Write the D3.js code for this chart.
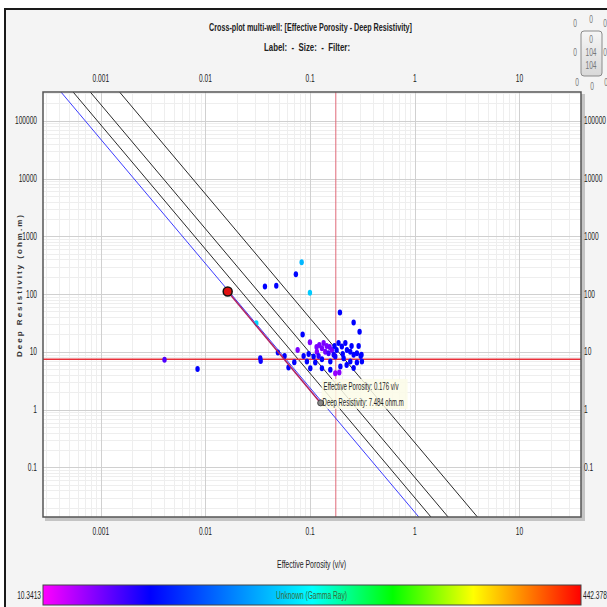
<!DOCTYPE html>
<html>
<head>
<meta charset="utf-8">
<script src="https://cdn.jsdelivr.net/npm/d3@7"></script>
<style>
  body { margin: 0; background: #fff; }
  text { font-family: "Liberation Sans", Arial, sans-serif; }
</style>
</head>
<body>
<div id="chart"></div>
<script>
// --- data ---
var porosity = [0.00406, 0.0084, 0.0306, 0.0334, 0.0337, 0.037, 0.0475, 0.0492, 0.057, 0.0706,
  0.0622, 0.0731, 0.083, 0.0996, 0.0848, 0.0996, 0.076, 0.1927, 0.2606, 0.297,
  0.1225, 0.1297, 0.116, 0.1396, 0.150, 0.1615, 0.187, 0.201, 0.217, 0.225,
  0.242, 0.2606, 0.280, 0.0968, 0.108, 0.0932, 0.112, 0.1297, 0.156, 0.174,
  0.209, 0.242, 0.280, 0.3126, 0.1297, 0.156, 0.1946, 0.1004, 0.174, 0.190,
  0.144, 0.171, 0.249, 0.205, 0.291, 0.310,
  0.1346, 0.1536, 0.1153, 0.168, 0.2234, 0.2606, 0.304, 0.0867, 0.1205, 0.179];
var resistivity = [7.28, 5.08, 31.4, 7.78, 6.98, 135, 139, 9.72, 8.53, 6.64,
  5.35, 221, 356, 106, 19.9, 14.7, 10.8, 47.9, 32.1, 22.4,
  13.2, 11.6, 10.1, 10.1, 9.5, 10.8, 14.2, 12.4, 14.2, 10.8,
  10.1, 8.88, 9.5, 9.23, 8.3, 6.79, 6.53, 7.48, 6.79, 8.3,
  7.78, 6.79, 6.53, 6.79, 5.22, 4.89, 5.57, 5.22, 4.28, 4.39,
  12.7, 12.7, 12.7, 9.23, 12.7, 8.88,
  14.3, 12.2, 12.2, 8.88, 5.96, 5.28, 8.53, 8.53, 8.53, 10.8];
var gammaRay = [70, 97, 205, 92, 92, 97, 97, 97, 97, 97,
  97, 100, 190, 200, 97, 55, 55, 97, 97, 97,
  55, 55, 52, 58, 75, 55, 97, 97, 95, 97,
  97, 97, 97, 97, 97, 97, 97, 97, 97, 90,
  97, 97, 97, 97, 97, 97, 97, 97, 45, 50,
  55, 97, 97, 97, 97, 97,
  55, 58, 55, 90, 97, 97, 97, 97, 80, 97];

var selectedPoint = { phi: 0.0163, rt: 111 };
var dragLine = [[0.0163, 111], [0.126, 1.31]];
var crossPhi = 0.176, crossRt = 7.484;

// Archie / Pickett lines
var archieA = 0.62, archieM = 2.15, archieN = 2, archieRw = 0.0272;
var swLines = [1, 0.75, 0.5, 0.25];

var xTicks = [0.001, 0.01, 0.1, 1, 10];
var yTicks = [0.1, 1, 10, 100, 1000, 10000, 100000];
var grMin = 10.3413, grMax = 442.378;
var grStops = [0, 0.2, 0.5, 0.65, 0.8, 1];
var grColors = ["#ff00ff", "#0000ff", "#00ffff", "#00ff00", "#ffff00", "#ff0000"];

// --- layout ---
var width = 607, height = 607,
    plot = { left: 43, right: 581, top: 92, bottom: 517 };

var svg = d3.select("#chart").append("svg")
    .attr("width", width)
    .attr("height", height);

// squeeze text horizontally (the original UI font is very narrow)
function squeeze(sel, k) {
    sel.attr("transform", function () {
        var tx = +this.getAttribute("x");
        return "translate(" + tx + ",0) scale(" + k + ",1) translate(" + (-tx) + ",0)";
    });
}
function fit(sel, len) {
    sel.attr("textLength", len).attr("lengthAdjust", "spacingAndGlyphs");
}

// panel
svg.append("rect")
    .attr("x", 5).attr("y", 9)
    .attr("width", 620).attr("height", 620)
    .attr("fill", "#f4f4f4")
    .attr("stroke", "#1a1a1a")
    .attr("stroke-width", 2);

var x = d3.scaleLog().domain([0.00028, 38.8]).range([plot.left, plot.right]);
var y = d3.scaleLog().domain([0.0139, 314000]).range([plot.bottom, plot.top]);

var grScale = d3.scaleLinear()
    .domain(grStops.map(function (s) { return grMin + s * (grMax - grMin); }))
    .range(grColors);

// shadow + plot background
svg.append("rect")
    .attr("x", plot.left + 2).attr("y", plot.top + 2)
    .attr("width", plot.right - plot.left + 2).attr("height", plot.bottom - plot.top + 2)
    .attr("fill", "#c4c4c4");
svg.append("rect")
    .attr("x", plot.left).attr("y", plot.top)
    .attr("width", plot.right - plot.left).attr("height", plot.bottom - plot.top)
    .attr("fill", "#fff");

var defs = svg.append("defs");
defs.append("clipPath").attr("id", "clip")
  .append("rect")
    .attr("x", plot.left).attr("y", plot.top)
    .attr("width", plot.right - plot.left).attr("height", plot.bottom - plot.top);

var g = svg.append("g").attr("clip-path", "url(#clip)");

// grid: minor then major
function logMinor(domain) {
    var out = [];
    var lo = Math.floor(Math.log10(domain[0])), hi = Math.ceil(Math.log10(domain[1]));
    for (var e = lo; e <= hi; e++) {
        for (var k = 2; k <= 9; k++) out.push(k * Math.pow(10, e));
    }
    return out;
}
function decades(domain) {
    var out = [];
    var lo = Math.floor(Math.log10(domain[0])), hi = Math.ceil(Math.log10(domain[1]));
    for (var e = lo; e <= hi; e++) out.push(Math.pow(10, e));
    return out;
}

g.selectAll(".xminor").data(logMinor(x.domain())).enter().append("line")
    .attr("x1", function (d) { return Math.round(x(d)) + 0.5; })
    .attr("x2", function (d) { return Math.round(x(d)) + 0.5; })
    .attr("y1", plot.top).attr("y2", plot.bottom)
    .attr("stroke", "#eeeeee");
g.selectAll(".yminor").data(logMinor(y.domain())).enter().append("line")
    .attr("y1", function (d) { return Math.round(y(d)) + 0.5; })
    .attr("y2", function (d) { return Math.round(y(d)) + 0.5; })
    .attr("x1", plot.left).attr("x2", plot.right)
    .attr("stroke", "#eeeeee");
g.selectAll(".xmajor").data(decades(x.domain())).enter().append("line")
    .attr("x1", function (d) { return Math.round(x(d)) + 0.5; })
    .attr("x2", function (d) { return Math.round(x(d)) + 0.5; })
    .attr("y1", plot.top).attr("y2", plot.bottom)
    .attr("stroke", "#d0d0d0");
g.selectAll(".ymajor").data(decades(y.domain())).enter().append("line")
    .attr("y1", function (d) { return Math.round(y(d)) + 0.5; })
    .attr("y2", function (d) { return Math.round(y(d)) + 0.5; })
    .attr("x1", plot.left).attr("x2", plot.right)
    .attr("stroke", "#d0d0d0");

// crosshair (vertical)
g.append("line")
    .attr("x1", x(crossPhi)).attr("x2", x(crossPhi))
    .attr("y1", plot.top).attr("y2", plot.bottom)
    .attr("stroke", "#e06a78").attr("stroke-width", 1);

// Pickett lines: Rt = a*Rw / (phi^m * Sw^n)
var phiRange = [0.0002, 60];
var line = d3.line()
    .x(function (d) { return x(d[0]); })
    .y(function (d) { return y(d[1]); });
g.selectAll(".sw").data(swLines).enter().append("path")
    .attr("d", function (sw) {
        return line(phiRange.map(function (p) {
            return [p, archieA * archieRw / (Math.pow(p, archieM) * Math.pow(sw, archieN))];
        }));
    })
    .attr("fill", "none")
    .attr("stroke", function (sw) { return sw === 1 ? "#3c3cff" : "#2a2a2a"; })
    .attr("stroke-width", 1);

g.append("line")
    .attr("x1", plot.left).attr("x2", plot.right)
    .attr("y1", y(crossRt)).attr("y2", y(crossRt))
    .attr("stroke", "#e8303a").attr("stroke-width", 1.5);

// points
g.selectAll(".pt").data(porosity).enter().append("ellipse")
    .attr("cx", function (d) { return x(d); })
    .attr("cy", function (d, i) { return y(resistivity[i]); })
    .attr("rx", 2.2).attr("ry", 3)
    .attr("fill", function (d, i) { return grScale(gammaRay[i]); });

// dragged line + selected point
g.append("path")
    .attr("d", line(dragLine))
    .attr("fill", "none")
    .attr("stroke", "#b02060")
    .attr("stroke-width", 1.5);
g.append("circle")
    .attr("cx", x(selectedPoint.phi)).attr("cy", y(selectedPoint.rt))
    .attr("r", 4.5)
    .attr("fill", "#e01010")
    .attr("stroke", "#111").attr("stroke-width", 1.5);

// tooltip
var tipX = x(dragLine[1][0]), tipY = y(dragLine[1][1]);
g.append("rect")
    .attr("x", tipX + 1).attr("y", tipY - 24)
    .attr("width", 86).attr("height", 30)
    .attr("fill", "#fbfbe8").attr("opacity", 0.85);
g.append("circle")
    .attr("cx", tipX).attr("cy", tipY).attr("r", 3)
    .attr("fill", "#888").attr("stroke", "#333").attr("stroke-width", 0.8);
g.append("text")
    .attr("x", tipX + 3).attr("y", tipY - 13)
    .attr("font-size", 10).attr("fill", "#222")
    .text("Effective Porosity: " + crossPhi + " v/v")
    .call(fit, 75);
g.append("text")
    .attr("x", tipX + 2).attr("y", tipY + 3)
    .attr("font-size", 10).attr("fill", "#222")
    .text("Deep Resistivity: " + crossRt + " ohm.m")
    .call(fit, 81);

// plot frame
svg.append("rect")
    .attr("x", plot.left).attr("y", plot.top)
    .attr("width", plot.right - plot.left).attr("height", plot.bottom - plot.top)
    .attr("fill", "none")
    .attr("stroke", "#555").attr("stroke-width", 1.5);

// axes labels
var fmt = function (d) { return String(d); };
svg.selectAll(".xtop").data(xTicks).enter().append("text")
    .attr("x", function (d) { return x(d); }).attr("y", 82)
    .attr("text-anchor", "middle").attr("font-size", 10).attr("fill", "#222")
    .text(fmt).call(squeeze, 0.66);
svg.selectAll(".xbot").data(xTicks).enter().append("text")
    .attr("x", function (d) { return x(d); }).attr("y", 535)
    .attr("text-anchor", "middle").attr("font-size", 10).attr("fill", "#222")
    .text(fmt).call(squeeze, 0.66);
svg.selectAll(".yl").data(yTicks).enter().append("text")
    .attr("x", 37).attr("y", function (d) { return y(d) + 3.5; })
    .attr("text-anchor", "end").attr("font-size", 10).attr("fill", "#222")
    .text(fmt).call(squeeze, 0.66);
svg.selectAll(".yr").data(yTicks).enter().append("text")
    .attr("x", 584).attr("y", function (d) { return y(d) + 3.5; })
    .attr("text-anchor", "start").attr("font-size", 10).attr("fill", "#222")
    .text(fmt).call(squeeze, 0.66);

svg.append("text")
    .attr("x", 277).attr("y", 568)
    .attr("font-size", 10).attr("fill", "#222")
    .text("Effective Porosity (v/v)")
    .call(fit, 69);
svg.append("text")
    .attr("transform", "translate(22,357) rotate(-90)")
    .attr("font-size", 8).attr("font-weight", "bold").attr("fill", "#333")
    .attr("textLength", 142).attr("lengthAdjust", "spacing")
    .text("Deep Resistivity (ohm.m)");

// titles
svg.append("text")
    .attr("x", 209).attr("y", 31)
    .attr("font-size", 11).attr("font-weight", "bold").attr("fill", "#222")
    .text("Cross-plot multi-well: [Effective Porosity - Deep Resistivity]")
    .call(fit, 203);
svg.append("text")
    .attr("x", 264).attr("y", 51)
    .attr("font-size", 11).attr("font-weight", "bold").attr("fill", "#222")
    .attr("xml:space", "preserve")
    .text("Label:  -  Size:  -  Filter:")
    .call(fit, 86);

// counter widget top right
var grad = defs.append("linearGradient").attr("id", "boxg").attr("x1", 0).attr("y1", 0).attr("x2", 0).attr("y2", 1);
grad.append("stop").attr("offset", "0%").attr("stop-color", "#f6f6f6");
grad.append("stop").attr("offset", "100%").attr("stop-color", "#d8d8d8");
svg.append("rect")
    .attr("x", 581).attr("y", 31).attr("width", 21).attr("height", 45).attr("rx", 3)
    .attr("fill", "url(#boxg)").attr("stroke", "#8a8a8a");
var counts = [
    { t: "0", x: 591, y: 23 }, { t: "0", x: 575, y: 27 }, { t: "0", x: 605, y: 27 },
    { t: "0", x: 591, y: 43 }, { t: "104", x: 591, y: 56 }, { t: "104", x: 591, y: 69 },
    { t: "0", x: 575, y: 56 }, { t: "0", x: 605, y: 56 },
    { t: "0", x: 577, y: 86 }, { t: "0", x: 592, y: 90 }, { t: "0", x: 606, y: 86 }
];
svg.selectAll(".cnt").data(counts).enter().append("text")
    .attr("x", function (d) { return d.x; }).attr("y", function (d) { return d.y; })
    .attr("text-anchor", "middle").attr("font-size", 10).attr("fill", "#777")
    .text(function (d) { return d.t; })
    .call(squeeze, 0.66);

// colour bar
var cb = { x: 43, y: 585, w: 538, h: 20 };
var cbGrad = defs.append("linearGradient").attr("id", "cbg");
grStops.forEach(function (s, i) {
    cbGrad.append("stop").attr("offset", (s * 100) + "%").attr("stop-color", grColors[i]);
});
svg.append("rect")
    .attr("x", cb.x).attr("y", cb.y).attr("width", cb.w).attr("height", cb.h)
    .attr("fill", "url(#cbg)").attr("stroke", "#444").attr("stroke-width", 1);
svg.append("text")
    .attr("x", 276).attr("y", cb.y + 14)
    .attr("font-size", 10).attr("fill", "#3a6a3a")
    .text("Unknown (Gamma Ray)")
    .call(fit, 71);
svg.append("text")
    .attr("x", cb.x - 2).attr("y", cb.y + 14)
    .attr("text-anchor", "end").attr("font-size", 10).attr("fill", "#222")
    .text(grMin).call(squeeze, 0.66);
svg.append("text")
    .attr("x", cb.x + cb.w + 2).attr("y", cb.y + 14)
    .attr("text-anchor", "start").attr("font-size", 10).attr("fill", "#222")
    .text(grMax).call(squeeze, 0.66);
</script>
</body>
</html>
